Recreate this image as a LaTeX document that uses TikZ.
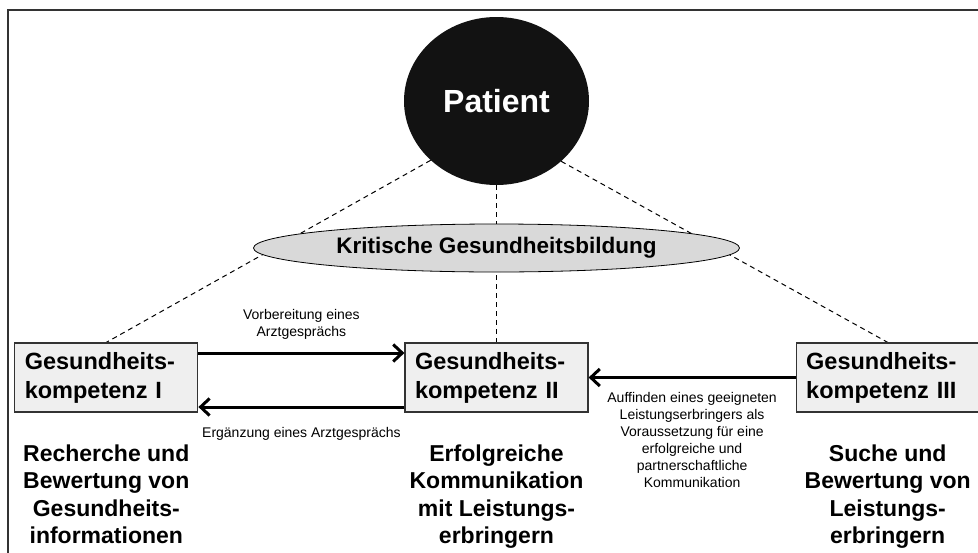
\documentclass[tikz,border=0pt]{standalone}
\usepackage{fontspec}
\setmainfont{Liberation Sans}
\usepackage{xcolor}
\usetikzlibrary{arrows.meta,positioning,shapes.geometric,backgrounds}

\definecolor{boxgray}{HTML}{EFEFEF}
\definecolor{ellgray}{HTML}{D9D9D9}

\begin{document}
\begin{tikzpicture}[x=1pt, y=-1pt,
  kbox/.style={draw=black!80, line width=1.2pt, fill=boxgray, minimum height=69pt,
               text width=163pt, inner xsep=10pt, inner ysep=0pt, align=left,
               font=\bfseries\fontsize{23.5}{29}\selectfont},
  desc/.style={inner sep=0pt, align=center, font=\bfseries\fontsize{23}{27.5}\selectfont},
  lbl/.style ={inner sep=0pt, align=center, font=\fontsize{14}{17}\selectfont},
  pat/.style ={ellipse, fill=black!93, text=white, minimum width=185pt, minimum height=168pt,
               inner sep=0pt, font=\bfseries\fontsize{32}{38}\selectfont},
  bild/.style={ellipse, draw, line width=0.8pt, fill=ellgray, minimum width=486pt,
               minimum height=48pt, inner sep=0pt, font=\bfseries\fontsize{22.5}{27}\selectfont},
  link/.style={dash pattern=on 5pt off 4pt, line width=1pt},
  arr/.style ={line width=3pt, -{Straight Barb[length=9pt, width=17pt]}},
  frame/.style={draw=black!80, line width=2pt}]
\useasboundingbox (0,0) rectangle (978,552);
\node[pat] (pat) at (496.5,101) {Patient};
\node[kbox] (k2) at (496.5,377.5) {Gesundheits-\\kompetenz II};
\node[kbox, left=206pt of k2] (k1) {Gesundheits-\\kompetenz I};
\node[kbox, right=207pt of k2] (k3) {Gesundheits-\\kompetenz III};
\node[bild] (kgb) at (496.5,248) {Kritische Gesundheitsbildung};
\node[desc, below=32pt of k1] (d1) {Recherche und\\Bewertung von\\Gesundheits-\\informationen};
\node[desc, below=32pt of k2] (d2) {Erfolgreiche\\Kommunikation\\mit Leistungs-\\erbringern};
\node[desc, below=32pt of k3] (d3) {Suche und\\Bewertung von\\Leistungs-\\erbringern};
\begin{scope}[on background layer]
\draw[frame] (8,570) -- (8,10) -- (990,10);
\draw[link] (pat.222.5) -- (k1.north);
\draw[link] (pat.south) -- (k2.north);
\draw[link] (pat.317.5) -- (k3.north);
\end{scope}
\draw[arr] ([yshift=24.5pt]k1.east) -- ([yshift=24.5pt]k2.west)
  node[lbl, midway, above=12pt] (l1) {Vorbereitung eines\\Arztgesprächs};
\draw[arr] ([yshift=-29.5pt]k2.west) -- ([yshift=-29.5pt]k1.east)
  node[lbl, midway, below=19pt] (l2) {Ergänzung eines Arztgesprächs};
\draw[arr] (k3.west) -- (k2.east)
  node[lbl, midway, below=13pt] (l3) {Auffinden eines geeigneten\\Leistungserbringers als\\Voraussetzung für eine\\erfolgreiche und\\partnerschaftliche\\Kommunikation};
\end{tikzpicture}
\end{document}
